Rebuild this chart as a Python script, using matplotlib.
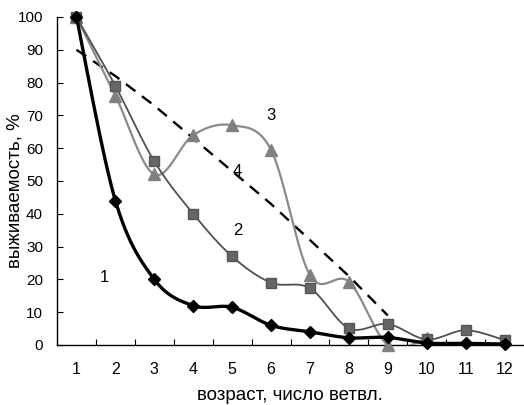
import numpy as np
import matplotlib
matplotlib.use("Agg")
import matplotlib.pyplot as plt

plt.rcParams['font.family'] = ['Liberation Sans', 'DejaVu Sans']

ages = [1, 2, 3, 4, 5, 6, 7, 8, 9, 10, 11, 12]
s1 = [100, 44, 20, 12, 11.5, 6, 4, 2.2, 2.3, 0.6, 0.5, 0.3]
s2 = [100, 79, 56, 40, 27, 19, 17.3, 5.1, 6.4, 1.7, 4.5, 1.5]
s3_x = [1, 2, 3, 4, 5, 6, 7, 8, 9, 10]
s3 = [100, 76, 52, 64, 67, 59.5, 21.3, 19.3, 0, 2.0]
s4_x = [1, 2, 3, 4, 5, 6, 7, 8, 9]
s4 = [90, 82, 73, 63, 53, 43, 32, 21, 9]
xticks = [str(a) for a in ages]
yticks = list(range(0, 101, 10))


def smooth(x, y, n=30):
    x = np.asarray(x, float)
    y = np.asarray(y, float)
    P = np.column_stack([x, y])
    out = []
    for i in range(len(P) - 1):
        p0 = P[i - 1] if i > 0 else P[i]
        p1 = P[i]
        p2 = P[i + 1]
        p3 = P[i + 2] if i + 2 < len(P) else P[i + 1]
        c1 = p1 + (p2 - p0) / 6.0
        c2 = p2 - (p3 - p1) / 6.0
        t = np.linspace(0, 1, n)[:, None]
        seg = ((1 - t) ** 3) * p1 + 3 * ((1 - t) ** 2) * t * c1 + 3 * (1 - t) * t ** 2 * c2 + t ** 3 * p2
        out.append(seg if i == 0 else seg[1:])
    out = np.vstack(out)
    return out[:, 0], out[:, 1]


fig = plt.figure(figsize=(5.24, 4.05), dpi=100)
ax = fig.add_axes([57 / 524, 1 - 345 / 405, 1 - 57 / 524, (345 - 17) / 405])

# series 4 dashed
ax.plot(s4_x, s4, color='black', lw=1.7, ls=(0, (5, 3.5)), zorder=2)

# series 3
sx, sy = smooth(s3_x, s3)
ax.plot(sx, sy, color='#8a8a8a', lw=1.6, zorder=3)
ax.plot(s3_x, s3, ls='none', marker='^', ms=8, color='#808080', zorder=4, clip_on=False)

# series 2
sx, sy = smooth(ages, s2)
ax.plot(sx, sy, color='#505050', lw=1.3, zorder=5)
ax.plot(ages, s2, ls='none', marker='s', ms=7, color='#666666', mec='#555555', zorder=6, clip_on=False)

# series 1
sx, sy = smooth(ages, s1)
ax.plot(sx, sy, color='black', lw=2.4, zorder=7)
ax.plot(ages, s1, ls='none', marker='D', ms=6.5, color='black', zorder=8, clip_on=False)

ax.text(1.705, 20.7, '1', fontsize=12, ha='center', va='center')
ax.text(5.14, 34.8, '2', fontsize=12, ha='center', va='center')
ax.text(5.99, 70.1, '3', fontsize=12, ha='center', va='center')
ax.text(5.14, 53, '4', fontsize=12, ha='center', va='center')

ax.set_xlim(0.5, 12.5)
ax.set_ylim(0, 100)
ax.set_xticks(ages)
ax.set_xticklabels(xticks, fontsize=11.5)
ax.set_xticks(np.arange(1.5, 12.5, 1), minor=True)
ax.tick_params(axis='x', which='major', length=0, pad=12)
ax.tick_params(axis='x', which='minor', direction='in', length=4, width=0.8)
ax.set_yticks(yticks)
ax.set_yticklabels([str(v) for v in yticks], fontsize=11)
ax.tick_params(axis='y', direction='in', length=4, width=0.8, pad=10)
for s in ['top', 'right']:
    ax.spines[s].set_visible(False)
for s in ['left', 'bottom']:
    ax.spines[s].set_linewidth(1.0)

fig.text(290 / 524, 1 - 395 / 405, 'возраст, число ветвл.', fontsize=13.5, ha='center', va='center')
fig.text(15 / 524, 1 - 191 / 405, 'выживаемость, %', fontsize=13.5, ha='center', va='center', rotation=90)

fig.savefig('out.png', dpi=100)
